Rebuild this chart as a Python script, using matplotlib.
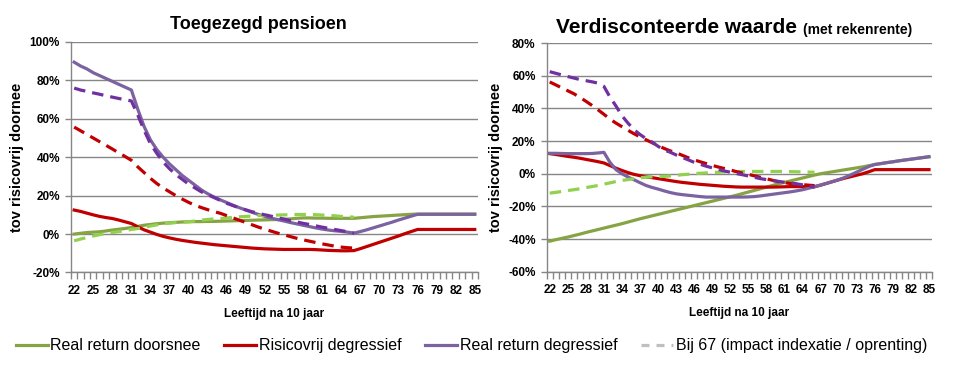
import numpy as np
import matplotlib
matplotlib.use("Agg")
import matplotlib.pyplot as plt
from matplotlib.lines import Line2D
from matplotlib.ticker import FuncFormatter

# Data
ages = list(range(22, 86))
ages_dash = list(range(22, 67))

left_green = [0.0, 0.4, 0.8, 1.0, 1.2, 1.6, 2.1, 2.5, 2.9, 3.4, 4.0, 4.6, 5.0, 5.4, 5.7,
              5.9, 6.1, 6.3, 6.4, 6.5, 6.5, 6.6, 6.6, 6.7, 6.8, 6.9, 7.0, 7.1, 7.2, 7.3,
              7.4, 7.5, 7.6, 7.7, 7.9, 8.2, 8.4, 8.4, 8.3, 8.3, 8.2, 8.2, 8.2, 8.2, 8.2,
              8.5, 8.8, 9.1, 9.3, 9.5, 9.7, 9.9, 10.1, 10.3, 10.4,
              10.4, 10.4, 10.4, 10.4, 10.4, 10.4, 10.4, 10.4, 10.4]
left_red = [12.5, 11.8, 10.9, 10.0, 9.2, 8.6, 8.1, 7.3, 6.4, 5.5, 3.8, 2.2, 1.0, -0.2, -1.2,
            -2.0, -2.7, -3.3, -3.8, -4.3, -4.7, -5.1, -5.5, -5.8, -6.1, -6.4, -6.7, -7.0,
            -7.3, -7.5, -7.7, -7.8, -7.9, -8.0, -8.0, -8.0, -8.0, -8.0, -8.1, -8.3, -8.5,
            -8.6, -8.7, -8.7, -8.6, -7.6, -6.5, -5.4, -4.3, -3.2, -2.1, -1.0, 0.2, 1.3, 2.4,
            2.4, 2.4, 2.4, 2.4, 2.4, 2.4, 2.4, 2.4, 2.4]
left_purple = [89.5, 87.5, 86.0, 84.0, 82.5, 81.0, 79.5, 78.0, 76.5, 75.0, 65.0, 56.0, 49.0,
               44.0, 40.0, 36.5, 33.5, 30.5, 28.0, 25.5, 23.0, 21.0, 19.3, 17.8, 16.4, 15.0,
               13.7, 12.5, 11.3, 10.2, 9.2, 8.3, 7.5, 6.8, 6.0, 5.3, 4.6, 3.9, 3.2, 2.6, 2.1,
               1.7, 1.4, 1.0, 0.5, 1.3, 2.2, 3.2, 4.2, 5.2, 6.2, 7.3, 8.3, 9.3, 10.3,
               10.3, 10.3, 10.3, 10.3, 10.3, 10.3, 10.3, 10.3, 10.3]
left_green_dash = [-3.5, -2.6, -1.8, -1.0, -0.3, 0.4, 0.8, 1.3, 1.8, 2.4, 2.9, 3.5, 4.2, 4.8,
                   5.4, 5.7, 6.0, 6.2, 6.4, 6.8, 7.3, 7.6, 7.9, 8.1, 8.4, 8.7, 9.0, 9.2, 9.4,
                   9.6, 9.7, 9.8, 9.9, 10.0, 10.1, 10.2, 10.2, 10.2, 10.1, 9.9, 9.8, 9.5, 9.2,
                   9.0, 8.8]
left_red_dash = [55.7, 53.8, 51.9, 50.0, 48.1, 46.2, 44.3, 42.3, 40.4, 38.4, 35.0, 32.0, 29.0,
                 26.3, 24.0, 22.0, 20.0, 18.2, 16.5, 15.0, 13.8, 12.7, 11.7, 10.8, 9.6, 8.4,
                 7.2, 6.0, 4.8, 3.6, 2.5, 1.5, 0.5, -0.4, -1.3, -2.2, -3.0, -3.7, -4.4, -5.1,
                 -5.7, -6.3, -6.8, -7.1, -7.3]
left_purple_dash = [76.0, 75.0, 74.3, 73.5, 72.8, 72.0, 71.3, 70.6, 70.0, 69.3, 62.0, 54.0,
                    47.0, 42.0, 37.5, 34.0, 31.0, 28.5, 26.0, 24.0, 22.0, 20.5, 19.0, 17.5,
                    16.0, 14.8, 13.6, 12.6, 11.6, 10.8, 10.0, 9.3, 8.5, 7.8, 7.0, 6.3, 5.6,
                    5.0, 4.3, 3.6, 3.0, 2.4, 1.8, 1.2, 0.5]

right_green = [-41.3, -40.4, -39.6, -38.8, -37.9, -37.0, -36.0, -35.1, -34.2, -33.3, -32.4,
               -31.5, -30.6, -29.6, -28.6, -27.6, -26.7, -25.8, -24.9, -24.0, -23.1, -22.2,
               -21.3, -20.4, -19.5, -18.6, -17.7, -16.8, -15.9, -15.0, -14.1, -13.2, -12.2,
               -11.2, -10.2, -9.2, -8.2, -7.2, -6.2, -5.3, -4.4, -3.5, -2.6, -1.7, -0.8, 0.0,
               0.6, 1.2, 1.8, 2.4, 3.0, 3.6, 4.2, 4.9, 5.6, 6.2, 6.8, 7.3, 7.9, 8.4, 8.9, 9.4,
               9.9, 10.4]
right_red = [12.3, 11.8, 11.2, 10.6, 10.1, 9.5, 8.8, 8.1, 7.4, 6.6, 5.0, 3.4, 2.0, 0.7, -0.4,
             -1.2, -1.9, -2.4, -3.0, -3.6, -4.2, -4.8, -5.3, -5.7, -6.1, -6.5, -6.8, -7.1,
             -7.4, -7.7, -7.9, -8.1, -8.2, -8.2, -8.2, -8.2, -8.2, -8.2, -8.1, -8.0, -7.9,
             -7.9, -7.9, -8.0, -8.0, -7.0, -5.9, -4.8, -3.7, -2.7, -1.8, -0.9, 0.0, 1.2, 2.5,
             2.5, 2.5, 2.5, 2.5, 2.5, 2.5, 2.5, 2.5, 2.5]
right_purple = [12.5, 12.5, 12.4, 12.3, 12.3, 12.3, 12.3, 12.4, 12.7, 13.1, 7.0, 2.5, 0.0,
                -2.0, -3.7, -5.5, -7.2, -8.4, -9.4, -10.5, -11.5, -12.3, -12.8, -13.2, -13.6,
                -14.0, -14.3, -14.3, -14.3, -14.3, -14.3, -14.3, -14.3, -14.2, -14.0, -13.6,
                -13.1, -12.6, -12.1, -11.6, -11.1, -10.5, -9.8, -8.9, -7.9, -6.9, -5.9, -4.8,
                -3.7, -2.3, -0.7, 1.0, 2.7, 4.4, 5.7, 6.2, 6.8, 7.3, 7.9, 8.4, 8.9, 9.4, 9.9,
                10.4]
right_green_dash = [-11.9, -11.4, -10.9, -10.3, -9.8, -9.2, -8.5, -7.9, -7.2, -6.4, -5.6, -4.8,
                    -4.1, -3.6, -3.0, -2.5, -2.1, -1.9, -1.7, -1.6, -1.4, -1.0, -0.6, -0.3,
                    0.0, 0.3, 0.5, 0.7, 0.9, 1.1, 1.2, 1.3, 1.4, 1.4, 1.4, 1.4, 1.4, 1.4, 1.4,
                    1.4, 1.3, 1.2, 1.1, 1.0, 0.9]
right_red_dash = [56.2, 54.4, 52.6, 50.8, 49.0, 46.8, 44.4, 41.9, 39.2, 36.4, 33.5, 31.0, 28.8,
                  26.6, 24.5, 22.6, 20.8, 19.0, 17.2, 15.5, 14.0, 12.8, 11.3, 9.8, 8.5, 7.3,
                  6.2, 5.1, 4.1, 3.2, 2.3, 1.3, 0.4, -0.4, -1.3, -2.2, -3.1, -4.0, -4.9, -5.5,
                  -6.0, -6.3, -6.7, -7.0, -7.3]
right_purple_dash = [62.5, 61.5, 60.5, 59.5, 58.6, 57.7, 57.0, 56.3, 55.5, 53.5, 47.0, 41.5,
                     35.5, 31.0, 27.0, 24.0, 21.5, 19.4, 16.8, 14.5, 13.2, 11.5, 10.0, 8.5,
                     7.0, 5.8, 4.6, 3.6, 2.6, 1.7, 0.9, 0.1, -0.6, -1.4, -2.2, -3.0, -3.6,
                     -4.2, -4.7, -5.2, -5.7, -6.2, -6.8, -7.5, -8.2]

legend_labels = ["Real return doorsnee", "Risicovrij degressief", "Real return degressief",
                 "Bij 67 (impact indexatie / oprenting)"]

# Styles
C_GREEN = "#86A444"
C_GREEN_D = "#92D050"
C_RED = "#C00000"
C_PURPLE = "#7B62A0"
C_PURPLE_D = "#7030A0"
C_GRID = "#868686"
LW = 2.3
DASH = (0, (3.6, 2.2))
FONT = "Liberation Sans"

fig = plt.figure(figsize=(9.62, 3.76), dpi=100)
ax1 = fig.add_axes([0.0738, 0.2753, 0.4230, 0.6130])
ax2 = fig.add_axes([0.5683, 0.2774, 0.4005, 0.6080])


def draw_panel(ax, green, red, purple, green_d, red_d, purple_d, ylim, yticks):
    ax.plot(ages, green, color=C_GREEN, lw=LW, zorder=3)
    ax.plot(ages, red, color=C_RED, lw=LW, zorder=3)
    ax.plot(ages, purple, color=C_PURPLE, lw=LW, zorder=3)
    ax.plot(ages_dash, green_d, color=C_GREEN_D, lw=LW, ls=DASH, zorder=4)
    ax.plot(ages_dash, red_d, color=C_RED, lw=LW, ls=DASH, zorder=4)
    ax.plot(ages_dash, purple_d, color=C_PURPLE_D, lw=LW, ls=DASH, zorder=4)

    ax.set_xlim(21.5, 85.5)
    ax.set_ylim(*ylim)
    ax.set_yticks(yticks)
    ax.yaxis.set_major_formatter(FuncFormatter(lambda v, p: f"{v:.0f}%"))
    ax.set_xticks(range(22, 86, 3))
    ax.set_xticks(np.arange(21.5, 86, 1), minor=True)
    ax.tick_params(axis="x", which="major", length=0, pad=9)
    ax.tick_params(axis="x", which="minor", length=5, color=C_GRID, width=1)
    ax.tick_params(axis="y", length=4, color=C_GRID, width=1, pad=4)
    for lab in ax.get_xticklabels() + ax.get_yticklabels():
        lab.set_fontfamily(FONT)
        lab.set_fontweight("bold")
        lab.set_fontsize(8.5)
    ax.grid(axis="y", color=C_GRID, lw=1.0, zorder=1)
    ax.set_axisbelow(True)
    for s in ("top", "right"):
        ax.spines[s].set_visible(False)
    for s in ("left", "bottom"):
        ax.spines[s].set_color(C_GRID)
        ax.spines[s].set_linewidth(1.0)
    ax.set_xlabel("Leeftijd na 10 jaar", fontfamily=FONT, fontweight="bold",
                  fontsize=8.5, labelpad=8)
    ax.set_ylabel("tov risicovrij doornee", fontfamily=FONT, fontweight="bold",
                  fontsize=10.5, labelpad=4)


draw_panel(ax1, left_green, left_red, left_purple, left_green_dash, left_red_dash,
           left_purple_dash, (-20, 100), range(-20, 101, 20))
draw_panel(ax2, right_green, right_red, right_purple, right_green_dash, right_red_dash,
           right_purple_dash, (-60, 80), range(-60, 81, 20))

fig.text(0.269, 0.935, "Toegezegd pensioen", fontfamily=FONT, fontweight="bold",
         fontsize=13, ha="center", va="center")
fig.text(0.578, 0.927, "Verdisconteerde waarde", fontfamily=FONT, fontweight="bold",
         fontsize=15, ha="left", va="center")
fig.text(0.835, 0.921, "(met rekenrente)", fontfamily=FONT, fontweight="bold",
         fontsize=10, ha="left", va="center")

handles = [Line2D([], [], color=C_GREEN, lw=LW),
           Line2D([], [], color=C_RED, lw=LW),
           Line2D([], [], color=C_PURPLE, lw=LW),
           Line2D([], [], color="#BFBFBF", lw=LW, ls=(0, (2.5, 2.2)))]
fig.legend(handles, legend_labels, loc="center", bbox_to_anchor=(0.49, 0.08), ncol=4,
           frameon=False, handlelength=2.0, handletextpad=0.15, columnspacing=1.5,
           prop={"family": FONT, "size": 11.5})

fig.savefig("out.png", dpi=100)
